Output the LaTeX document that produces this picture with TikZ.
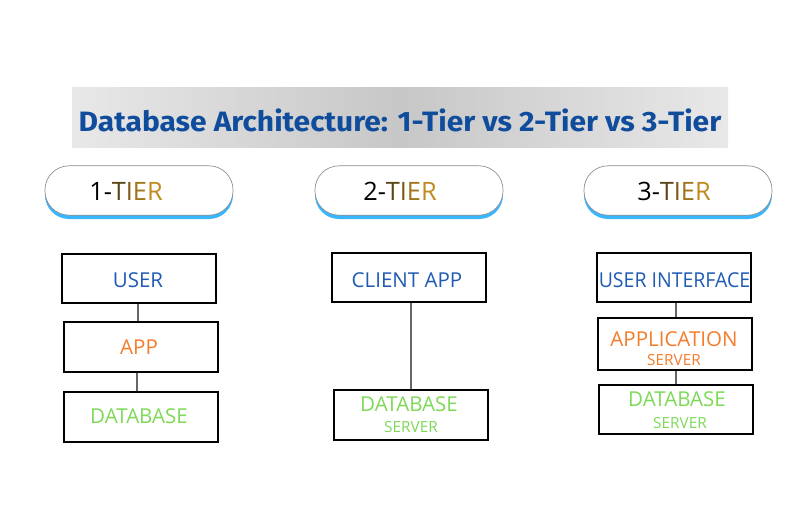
\documentclass[tikz,border=0pt]{standalone}
\usepackage{fontspec}
\setmainfont{Open Sans}
\newfontfamily\titlefont{Fira Sans}
\begin{document}
\begin{tikzpicture}[x=0.75pt,y=-0.75pt,
  tbox/.style={draw=black,line width=1.5pt,minimum width=115.5pt,minimum height=37pt,inner sep=0pt},
  conn/.style={draw=black!60,line width=1.1pt},
  pill/.style={draw=black!45,line width=0.5pt,fill=white,rounded corners=18pt,minimum width=141pt,minimum height=37pt,inner sep=0pt},
  big/.style={font=\fontsize{15.4}{17}\selectfont,inner sep=0pt},
  small/.style={font=\fontsize{11.5}{13}\selectfont,inner sep=0pt},
  tiertxt/.style={font=\fontsize{19}{21}\selectfont,inner sep=0pt}]
\definecolor{tblue}{HTML}{0F4C9C}
\definecolor{ublue}{HTML}{1F5BB5}
\definecolor{uorange}{HTML}{F57C2C}
\definecolor{ugreen}{HTML}{7ED957}
\definecolor{shblue}{HTML}{38B6FF}
\definecolor{g1}{HTML}{5A4518}
\definecolor{g2}{HTML}{7C5A14}
\definecolor{g3}{HTML}{A0741A}
\definecolor{g4}{HTML}{C08A20}
\useasboundingbox (0,0) rectangle (803,506);
\fill[white] (0,0) rectangle (803,506);
% title band
\shade[left color=black!9,right color=black!9,middle color=black!22] (72,88) rectangle (728,148);
\node[font=\titlefont\bfseries\fontsize{21}{24}\selectfont,text=tblue,inner sep=0pt,xscale=1.07] (title) at (400,120) {Database Architecture: 1-Tier vs 2-Tier vs 3-Tier};
% pills
\foreach \n/\cx in {p1/139,p2/409,p3/678}{
  \fill[shblue,rounded corners=18pt] (\cx-94,171) rectangle (\cx+94,219);
  \node[pill] (\n) at (\cx,190.5) {};
}
\node[tiertxt] (t1) at (126,191) {1-\textcolor{g1}{T}\textcolor{g2}{I}\textcolor{g3}{E}\textcolor{g4}{R}};
\node[tiertxt] (t2) at (400,191) {2-\textcolor{g1}{T}\textcolor{g2}{I}\textcolor{g3}{E}\textcolor{g4}{R}};
\node[tiertxt] (t3) at (674,191) {3-\textcolor{g1}{T}\textcolor{g2}{I}\textcolor{g3}{E}\textcolor{g4}{R}};
% 1-tier
\node[tbox] (a1) at (139,278.5) {};
\node[tbox] (a2) at (140.5,347) {};
\node[tbox] (a3) at (140.5,417) {};
\node[big,text=ublue] at (138,280) {USER};
\node[big,text=uorange] at (139,347) {APP};
\node[big,text=ugreen] at (139,416) {DATABASE};
\draw[conn] (a1.south -| 138,0) -- (a2.north -| 138,0);
\draw[conn] (a2.south -| 137,0) -- (a3.north -| 137,0);
% 2-tier
\node[tbox] (b1) at (408.5,277.5) {};
\node[tbox] (b2) at (410.5,415) {};
\node[big,text=ublue] at (407,280) {CLIENT APP};
\node[big,text=ugreen] at (409,404) {DATABASE};
\node[small,text=ugreen] at (411,427) {SERVER};
\draw[conn] (b1.south -| 411,0) -- (b2.north -| 411,0);
% 3-tier
\node[tbox] (c1) at (674,277.5) {};
\node[tbox,minimum height=39pt] (c2) at (674.5,344) {};
\node[tbox] (c3) at (675.5,409.5) {};
\node[big,text=ublue,xscale=0.95] at (674.5,280) {USER INTERFACE};
\node[big,text=uorange] at (674,339) {APPLICATION};
\node[small,text=uorange] at (674,360) {SERVER};
\node[big,text=ugreen] at (677,399) {DATABASE};
\node[small,text=ugreen] at (680,423) {SERVER};
\draw[conn] (c1.south -| 676,0) -- (c2.north -| 676,0);
\draw[conn] (c2.south -| 676,0) -- (c3.north -| 676,0);
\end{tikzpicture}
\end{document}
